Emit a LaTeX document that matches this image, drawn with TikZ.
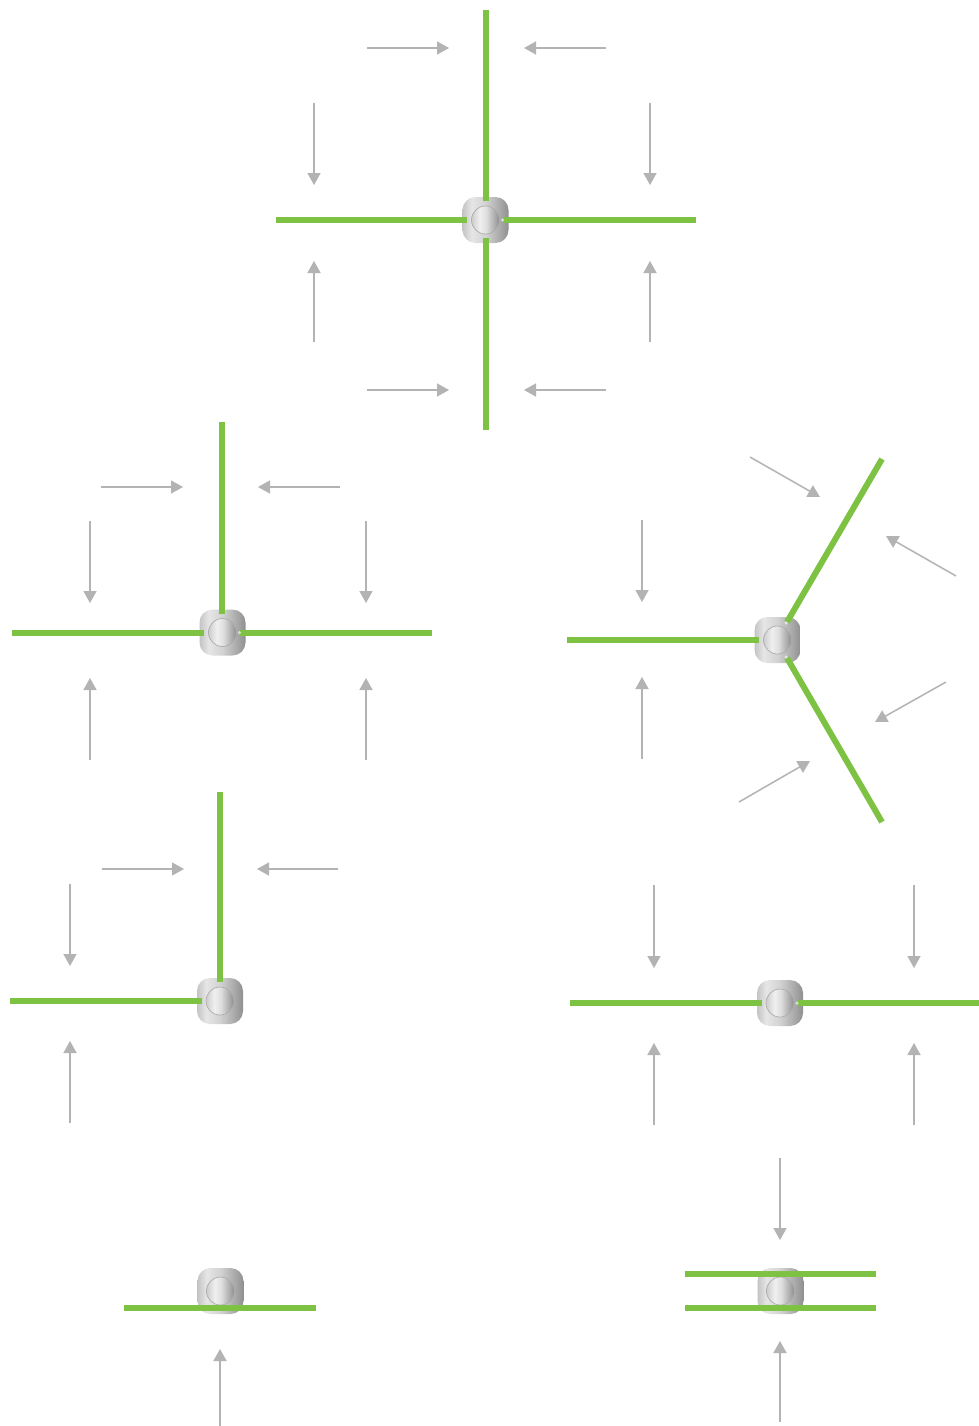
\documentclass[tikz,border=0pt]{standalone}
\usetikzlibrary{arrows.meta}
\definecolor{leaf}{HTML}{7DC242}
\definecolor{flowgray}{HTML}{B3B3B3}
\definecolor{ka}{HTML}{C4C4C4}
\definecolor{kb}{HTML}{E6E6E6}
\definecolor{kc}{HTML}{D2D2D2}
\definecolor{kd}{HTML}{A8A8A8}
\definecolor{ke}{HTML}{8F8F8F}
\definecolor{da}{HTML}{CDCDCD}
\definecolor{db}{HTML}{F0F0F0}
\definecolor{dc}{HTML}{DDDDDD}
\definecolor{dd}{HTML}{8E8E8E}
\pgfdeclarehorizontalshading{knobshade}{100bp}{
  color(0bp)=(ka); color(25bp)=(ka); color(35bp)=(kb); color(50bp)=(kc);
  color(66bp)=(kd); color(75bp)=(ke); color(100bp)=(ke)}
\pgfdeclarehorizontalshading{discshade}{100bp}{
  color(0bp)=(da); color(25bp)=(da); color(40bp)=(db); color(52bp)=(dc);
  color(75bp)=(dd); color(100bp)=(dd)}
\tikzset{
  x=1pt,y=-1pt,
  knob/.style={rectangle,rounded corners=13pt,minimum size=46pt,inner sep=0pt,outer sep=0pt,shading=knobshade},
  disc/.style={circle,minimum size=28pt,inner sep=0pt,outer sep=0pt,shading=discshade,draw=black!32,line width=.7pt},
  flowline/.style={draw=flowgray,line width=1.5pt,-{Triangle[length=12pt,width=13pt,fill=flowgray]}},
  stem/.style={draw=leaf,line width=6pt},
  tipdot/.style={circle,fill=white,opacity=.6,minimum size=3.5pt,inner sep=0pt}
}
\newcounter{fl}
\newcommand{\flowarrow}[4]{\stepcounter{fl}%
  \coordinate (fa\thefl) at (#1,#2);\coordinate (fb\thefl) at (#3,#4);%
  \draw[flowline] (fa\thefl) -- (fb\thefl);}
\newcounter{st}
\newcommand{\stemline}[4]{\stepcounter{st}%
  \coordinate (sa\thest) at (#1,#2);\coordinate (sb\thest) at (#3,#4);%
  \draw[stem] (sa\thest) -- (sb\thest);}
\newcommand{\hubat}[3]{\node[knob] (#1) at (#2,#3) {};\node[disc] (#1c) at (#1) {};}
\begin{document}
\begin{tikzpicture}
\useasboundingbox[fill=white] (0,0) rectangle (979,1426);
% hubs
\hubat{hA}{485.5}{220}
\hubat{hB}{222.5}{632.5}
\hubat{hC}{777.5}{640}
\hubat{hD}{220}{1001}
\hubat{hE}{780}{1003}
\hubat{hF}{220.5}{1291}
\hubat{hG}{780.5}{1291}
% top cross
\stemline{486}{10}{486}{201}
\stemline{486}{238}{486}{430}
\stemline{276}{220}{467}{220}
\stemline{503}{220}{696}{220}
\flowarrow{367}{48}{449}{48}
\flowarrow{606}{48}{524}{48}
\flowarrow{314}{103}{314}{185}
\flowarrow{650}{103}{650}{185}
\flowarrow{314}{342}{314}{261}
\flowarrow{650}{342}{650}{261}
\flowarrow{367}{390}{449}{390}
\flowarrow{606}{390}{524}{390}
% T
\stemline{222}{422}{222}{614}
\stemline{12}{632.5}{204}{632.5}
\stemline{240}{632.5}{432}{632.5}
\flowarrow{101}{487}{183}{487}
\flowarrow{340}{487}{258}{487}
\flowarrow{90}{521}{90}{603}
\flowarrow{366}{521}{366}{603}
\flowarrow{90}{760}{90}{678}
\flowarrow{366}{760}{366}{678}
% Y
\stemline{567}{640}{759}{640}
\stemline{882}{459}{787}{622}
\stemline{882}{822}{787}{658}
\flowarrow{750}{457}{820}{497}
\flowarrow{956}{576}{886}{536}
\flowarrow{946}{682}{875}{722}
\flowarrow{739}{802}{810}{761}
\flowarrow{642}{520}{642}{602}
\flowarrow{642}{759}{642}{677}
% L
\stemline{220}{792}{220}{982}
\stemline{10}{1001}{202}{1001}
\flowarrow{102}{869}{184}{869}
\flowarrow{338}{869}{257}{869}
\flowarrow{70}{884}{70}{966}
\flowarrow{70}{1123}{70}{1041}
% straight
\stemline{570}{1003}{762}{1003}
\stemline{798}{1003}{979}{1003}
\flowarrow{654}{885}{654}{968}
\flowarrow{914}{885}{914}{968}
\flowarrow{654}{1125}{654}{1043}
\flowarrow{914}{1125}{914}{1043}
% bottom left
\stemline{124}{1308}{316}{1308}
\flowarrow{220}{1426}{220}{1349}
% bottom right
\stemline{685}{1274}{876}{1274}
\stemline{685}{1308}{876}{1308}
\flowarrow{780}{1158}{780}{1240}
\flowarrow{780}{1422}{780}{1341}
% stem tips
\node[tipdot] (tA) at (502.5,220) {};
\node[tipdot] (tB) at (239.5,632.5) {};
\node[tipdot] (tC1) at (786,623) {};
\node[tipdot] (tC2) at (786,657) {};
\node[tipdot] (tE) at (797,1003) {};
\end{tikzpicture}
\end{document}
